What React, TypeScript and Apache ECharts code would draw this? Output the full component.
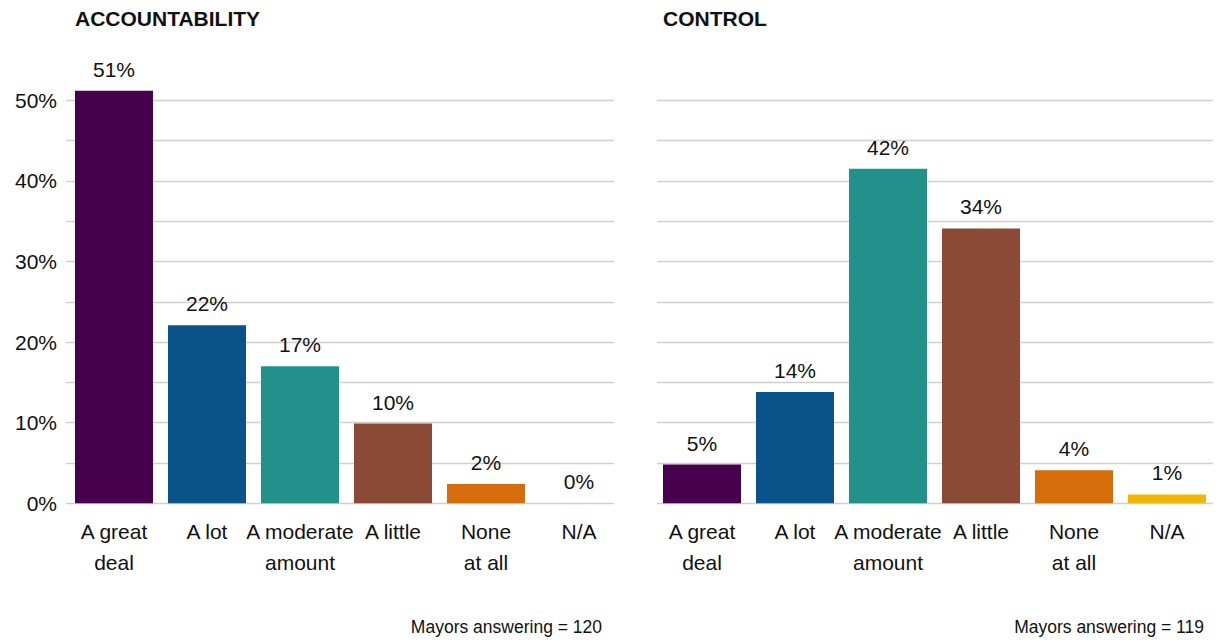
import React, { useEffect, useRef } from "react";
import * as echarts from "echarts";

const categories = ["A great\ndeal", "A lot", "A moderate\namount", "A little", "None\nat all", "N/A"];
const accountability = [51.2, 22.1, 17, 9.9, 2.4, 0];
const control = [4.8, 13.8, 41.5, 34.1, 4.1, 1.1];
const colors = ["#46004E", "#0A538A", "#22918C", "#8B4A36", "#D66D0B", "#F2B705"];
const yTicks = [0, 10, 20, 30, 40, 50];
const titles = ["ACCOUNTABILITY", "CONTROL"];
const footnotes = ["Mayors answering = 120", "Mayors answering = 119"];

const FONT = "'Liberation Sans', Arial, sans-serif";
const TOP = 100.3;
const BOTTOM = 642 - 503.3;

export default function App() {
  const ref = useRef<HTMLDivElement>(null);
  useEffect(() => {
    if (!ref.current) return;
    const chart = echarts.init(ref.current, null, { renderer: "svg" });
    const valueAxis = (show: boolean, grid: number) => ({
      type: "value",
      gridIndex: grid,
      min: 0,
      max: 50,
      interval: 5,
      axisLine: { show: false },
      axisTick: { show: false },
      splitLine: { show, lineStyle: { color: "#D0D0D0", width: 1.3 } },
      axisLabel: {
        show: grid === 0,
        fontFamily: FONT,
        fontSize: 21,
        color: "#111",
        margin: 9,
        formatter: (v: number) => (yTicks.includes(v) ? v + "%" : ""),
      },
    });
    const catAxis = (grid: number, showLabels: boolean) => ({
      type: "category",
      gridIndex: grid,
      data: categories,
      axisLine: { show: false },
      axisTick: { show: false },
      axisLabel: {
        show: showLabels,
        interval: 0,
        fontFamily: FONT,
        fontSize: 21,
        color: "#111",
        lineHeight: 31,
        margin: 13,
      },
    });
    const barSeries = (data: number[], idx: number) => ({
      type: "bar",
      xAxisIndex: idx,
      yAxisIndex: idx,
      barWidth: 78,
      clip: false,
      data: data.map((v, i) => ({ value: v, itemStyle: { color: colors[i] } })),
      label: {
        show: true,
        position: "top",
        distance: 11,
        fontFamily: FONT,
        fontSize: 21,
        color: "#111",
        formatter: (p: any) => Math.round(p.value) + "%",
      },
    });
    chart.setOption({
      animation: false,
      grid: [
        { left: 66, width: 548, top: TOP, bottom: BOTTOM },
        { left: 67.5, width: 558, top: TOP, bottom: BOTTOM },
        { left: 657, width: 556, top: TOP, bottom: BOTTOM },
        { left: 655.5, width: 558, top: TOP, bottom: BOTTOM },
      ],
      xAxis: [catAxis(0, false), catAxis(1, true), catAxis(2, false), catAxis(3, true)],
      yAxis: [valueAxis(true, 0), valueAxis(false, 1), valueAxis(true, 2), valueAxis(false, 3)],
      series: [barSeries(accountability, 1), barSeries(control, 3)],
      graphic: [
        { type: "text", left: 75, top: 8, style: { text: titles[0], font: `bold 21px ${FONT}`, fill: "#111" } },
        { type: "text", left: 663, top: 8, style: { text: titles[1], font: `bold 21px ${FONT}`, fill: "#111" } },
        { type: "text", right: 1223 - 602, top: 618, style: { text: footnotes[0], font: `17.5px ${FONT}`, fill: "#111" } },
        { type: "text", right: 1223 - 1204, top: 618, style: { text: footnotes[1], font: `17.5px ${FONT}`, fill: "#111" } },
      ],
    });
    return () => chart.dispose();
  }, []);
  return <div ref={ref} style={{ width: 1223, height: 642, position: "fixed", left: 0, top: 0, background: "#fff" }} />;
}
